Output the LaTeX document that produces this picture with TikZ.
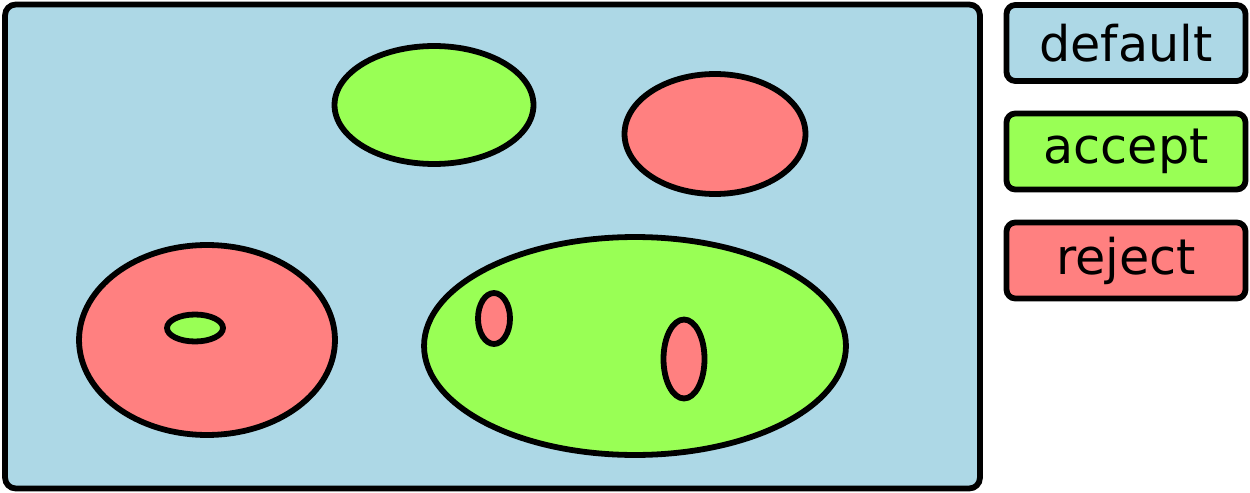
\documentclass[tikz,border=0pt]{standalone}
\usepackage{fontspec}
\setmainfont{DejaVu Sans}
\usetikzlibrary{shapes.geometric}
\definecolor{defaultcol}{RGB}{173,216,230}
\definecolor{acceptcol}{RGB}{153,255,85}
\definecolor{rejectcol}{RGB}{255,128,128}

\begin{document}
\begin{tikzpicture}[x=0.02cm,y=-0.02cm,
	region/.style={draw,line width=3.3pt,ellipse,inner sep=0pt},
	legend/.style={draw,line width=3.3pt,rounded corners=5pt,minimum width=4.78cm,minimum height=1.52cm,font=\fontsize{28}{30}\selectfont}]
	\useasboundingbox (0,0) rectangle (1250,493);
	\node[draw,line width=3.3pt,rounded corners=6pt,fill=defaultcol,minimum width=19.5cm,minimum height=9.68cm] (area) at (492.5,246.5) {};

	\node[region,fill=acceptcol,minimum width=3.98cm,minimum height=2.36cm] (a1) at (434,105) {};
	\node[region,fill=rejectcol,minimum width=3.62cm,minimum height=2.40cm] (r1) at (715,134) {};
	\node[region,fill=rejectcol,minimum width=5.12cm,minimum height=3.80cm] (r2) at (207,340) {};
	\node[region,fill=acceptcol,minimum width=1.12cm,minimum height=0.54cm] (a2) at (195,328) {};
	\node[region,fill=acceptcol,minimum width=8.44cm,minimum height=4.36cm] (a3) at (635,346) {};
	\node[region,fill=rejectcol,minimum width=0.64cm,minimum height=1.02cm] (r3) at (494,318.5) {};
	\node[region,fill=rejectcol,minimum width=0.82cm,minimum height=1.58cm] (r4) at (684,359) {};

	\node[legend,fill=defaultcol] (ldefault) at (1126,43) {default};
	\node[legend,fill=acceptcol] (laccept) at (1126,151.5) {accept};
	\node[legend,fill=rejectcol] (lreject) at (1126,260.5) {reject};
\end{tikzpicture}
\end{document}
